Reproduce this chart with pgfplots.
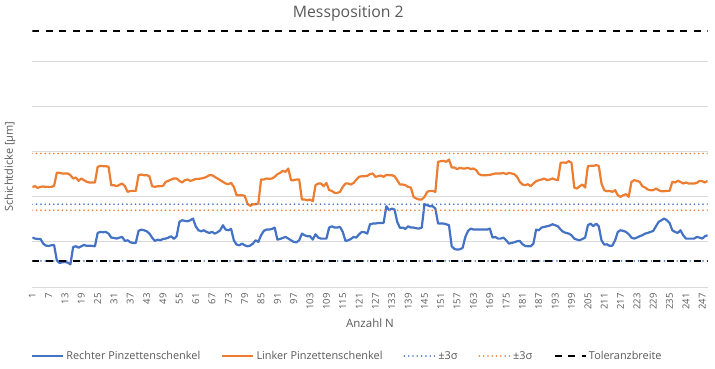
\documentclass[border=0pt]{standalone}
\usepackage{pgfplots}
\pgfplotsset{compat=1.18}
\usepackage{pgfplotstable}
\usepackage{fontspec}
\setmainfont{Open Sans}
\definecolor{xblue}{HTML}{4472C4}
\definecolor{xorange}{HTML}{ED7D31}
\definecolor{xgrid}{HTML}{D9D9D9}
\definecolor{xtext}{HTML}{595959}
% R = rechter, L = linker (read in picture units, measured downward)
\pgfplotstableread{
N R L
1 262 110
2 265 108
3 266 113
4 266 110
5 280 109
6 286 110
7 287 110
8 285 110
9 284 107
10 330 68
11 338 68
12 336 70
13 335 70
14 337 70
15 342 75
16 290 85
17 288 82
18 292 92
19 288 85
20 284 90
21 287 95
22 286 97
23 287 97
24 288 97
25 248 50
26 245 47
27 246 48
28 245 48
29 250 50
30 262 105
31 263 105
32 265 108
33 262 104
34 260 100
35 272 108
36 270 125
37 276 122
38 278 122
39 278 122
40 242 75
41 238 73
42 240 75
43 243 75
44 250 78
45 262 108
46 272 110
47 268 108
48 270 108
49 266 107
50 265 95
51 262 92
52 258 88
53 266 85
54 258 85
55 215 92
56 210 97
57 212 90
58 213 88
59 210 92
60 205 90
61 228 86
62 240 86
63 243 85
64 240 83
65 245 80
66 248 75
67 245 75
68 250 80
69 246 85
70 240 90
71 225 95
72 238 100
73 240 102
74 236 98
75 270 110
76 283 135
77 285 135
78 280 135
79 285 137
80 288 160
81 286 167
82 280 162
83 270 162
84 275 160
85 255 88
86 242 88
87 238 85
88 238 86
89 236 85
90 232 80
91 268 72
92 266 68
93 263 62
94 260 65
95 265 55
96 270 90
97 275 90
98 276 88
99 270 88
100 250 148
101 255 148
102 258 150
103 258 148
104 268 153
105 252 105
106 262 100
107 265 100
108 265 108
109 265 98
110 232 120
111 228 122
112 232 128
113 232 128
114 230 125
115 245 110
116 272 100
117 270 100
118 266 103
119 260 98
120 262 88
121 252 80
122 245 78
123 246 78
124 250 77
125 222 72
126 220 70
127 220 80
128 218 78
129 218 76
130 218 80
131 168 74
132 180 75
133 175 75
134 178 78
135 215 90
136 233 103
137 232 103
138 236 105
139 228 110
140 232 112
141 232 140
142 234 145
143 235 148
144 232 148
145 162 140
146 165 125
147 168 122
148 168 122
149 175 125
150 220 35
151 220 33
152 220 32
153 222 35
154 225 28
155 288 52
156 296 52
157 298 57
158 297 53
159 293 55
160 260 55
161 242 53
162 235 57
163 238 55
164 238 60
165 238 72
166 238 75
167 238 75
168 238 75
169 235 74
170 262 72
171 260 70
172 265 70
173 265 70
174 262 68
175 270 72
176 280 68
177 278 70
178 276 72
179 273 80
180 272 95
181 282 103
182 287 105
183 288 102
184 288 108
185 280 100
186 238 93
187 240 90
188 232 88
189 230 85
190 228 90
191 226 88
192 222 85
193 225 88
194 228 90
195 238 38
196 245 37
197 248 38
198 250 33
199 255 38
200 265 112
201 268 115
202 270 108
203 266 103
204 262 112
205 225 48
206 220 47
207 228 47
208 220 45
209 228 47
210 270 100
211 283 120
212 282 123
213 287 122
214 286 125
215 270 120
216 245 135
217 240 140
218 242 135
219 245 132
220 252 140
221 262 95
222 265 90
223 262 92
224 258 95
225 255 108
226 250 112
227 248 118
228 245 120
229 242 120
230 228 115
231 215 120
232 210 123
233 205 123
234 210 122
235 218 122
236 240 95
237 245 97
238 248 92
239 240 95
240 255 100
241 265 97
242 265 100
243 265 100
244 265 100
245 260 98
246 262 92
247 265 93
248 258 97
249 255 92
}\messdata

\begin{document}
\begin{tikzpicture}
\useasboundingbox (0,0) rectangle (715pt,368pt);
\node[anchor=base, inner sep=0pt, text=xtext, font=\fontsize{15.8}{18}\selectfont] at (348.3pt,350.7pt) {Messposition 2};
\begin{axis}[
  at={(32.3pt,81pt)}, anchor=south west,
  scale only axis, width=675.4pt, height=257.7pt,
  xmin=1, xmax=249, ymin=0, ymax=772,
  axis line style={draw=none},
  xtick={1,7,...,247},
  ytick={0,135.2,270.4,405.6,540.8,676},
  yticklabels={},
  ymajorgrids, grid style={xgrid, line width=1pt},
  major tick length=0pt,
  /pgf/number format/assume math mode=true,
  xticklabel style={rotate=90, anchor=east, inner sep=0pt, font=\fontsize{9.5}{10}\selectfont, text=xtext},
  xticklabel shift=6pt,
  xlabel={Anzahl N},
  xlabel style={at={(axis description cs:0.5,-0.1385)}, anchor=center, font=\fontsize{11.5}{13}\selectfont, text=xtext},
  ylabel={Schichtdicke [µm]},
  ylabel style={at={(axis description cs:-0.033,0.467)}, anchor=center, font=\fontsize{11}{13}\selectfont, text=xtext},
  legend columns=5,
  legend style={draw=none, fill=none, inner sep=0pt, at={(axis description cs:-0.002,-0.2678)}, anchor=west,
    font=\fontsize{10.9}{12}\selectfont, text=xtext,
    /tikz/every even column/.append style={column sep=19pt}},
  legend image code/.code={\draw[#1] (0pt,0pt) -- (31pt,0pt);},
]
\addplot[xblue, line width=2.2pt, line join=round] table[x=N, y expr=410-\thisrow{R}] {\messdata};
\addlegendentry{Rechter Pinzettenschenkel}
\addplot[xorange, line width=2.2pt, line join=round] table[x=N, y expr=410-\thisrow{L}] {\messdata};
\addlegendentry{Linker Pinzettenschenkel}
\addplot[xblue, line width=1.8pt, line cap=round, dash pattern=on 0pt off 4.3pt] coordinates {(1,248) (249,248)};
\addlegendentry{±3σ}
\addplot[xblue, line width=1.8pt, line cap=round, dash pattern=on 0pt off 4.3pt, forget plot] coordinates {(1,78) (249,78)};
\addplot[xorange, line width=1.8pt, line cap=round, dash pattern=on 0pt off 4.3pt] coordinates {(1,400) (249,400)};
\addlegendentry{±3σ}
\addplot[xorange, line width=1.8pt, line cap=round, dash pattern=on 0pt off 4.3pt, forget plot] coordinates {(1,230) (249,230)};
\addplot[black, line width=2.6pt, dash pattern=on 7pt off 6.5pt] coordinates {(1,767) (249,767)};
\addlegendentry{Toleranzbreite}
\addplot[black, line width=2.6pt, dash pattern=on 7pt off 6.5pt, forget plot] coordinates {(1,78) (249,78)};
\end{axis}
\end{tikzpicture}
\end{document}
